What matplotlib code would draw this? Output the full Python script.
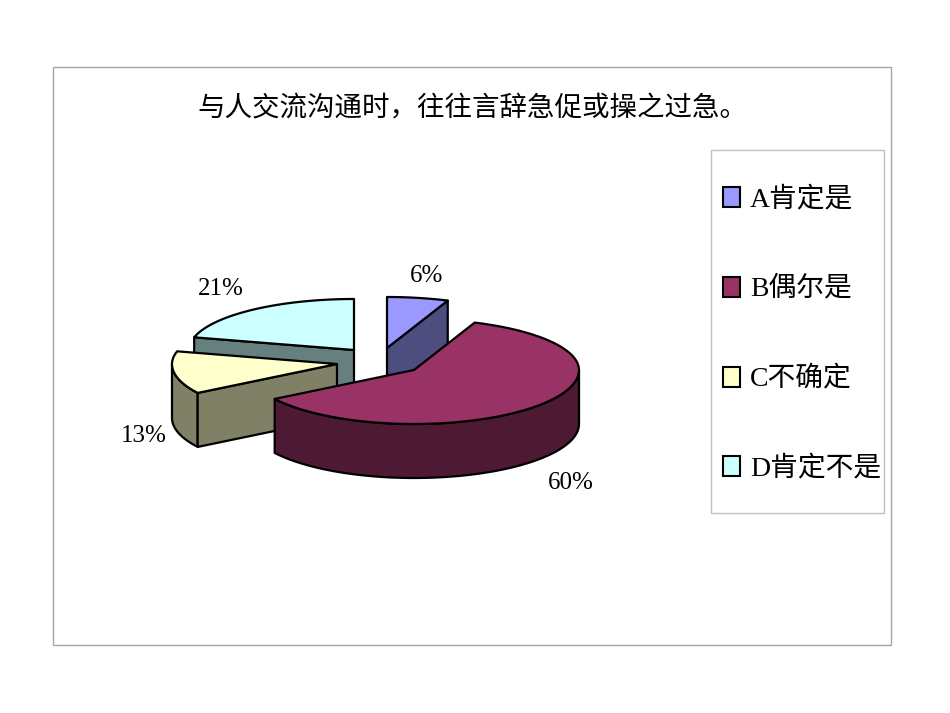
import numpy as np
import matplotlib
matplotlib.use('Agg')
import matplotlib.pyplot as plt
from matplotlib.patches import Polygon, Rectangle

plt.rcParams['font.family'] = ['Liberation Serif', 'Noto Sans CJK SC', 'DejaVu Sans']

title = '与人交流沟通时，往往言辞急促或操之过急。'
labels = ['A肯定是', 'B偶尔是', 'C不确定', 'D肯定不是']
values = [6, 60, 13, 21]
top_colors = ['#9999FF', '#993366', '#FFFFCC', '#CCFFFF']
side_colors = ['#4D4D80', '#4D1933', '#808066', '#668080']

# layout, in image pixels
centers = [(387, 348), (414, 370), (337, 364), (354, 350)]
label_pos = [(427, 276), (571, 483), (144, 436), (221, 289)]
legend_y = [197, 287, 377, 466]
rx, ry_back, ry_front, depth = 165, 51, 54, 54
lw = 1.6


def point(c, deg):
    a = np.radians(deg)
    # the near half of the pie looks a bit deeper than the far half
    ry = ry_back if np.cos(a) > 0 else ry_front
    return np.array([c[0] + rx * np.sin(a), c[1] - ry * np.cos(a)])


def arc(c, a, b):
    return [point(c, d) for d in np.linspace(a, b, 80)]


def shift(pts):
    return [(p[0], p[1] + depth) for p in pts]


def poly(ax, pts, color, z):
    ax.add_patch(Polygon(pts, closed=True, facecolor=color, edgecolor='black',
                         linewidth=lw, joinstyle='round', zorder=z))


fig = plt.figure(figsize=(9.5, 7.13), dpi=100)
ax = fig.add_axes([0, 0, 1, 1])
ax.set_xlim(0, 950)
ax.set_ylim(713, 0)
ax.axis('off')

ax.add_patch(Rectangle((53, 67), 838, 578, fill=False, edgecolor='#A6A6A6', linewidth=1))
ax.add_patch(Rectangle((710.5, 150), 173, 363, fill=False, edgecolor='#C0C0C0', linewidth=1))
ax.text(472, 109, title, ha='center', va='center', fontsize=19.8)

# start and end angle of each slice, clockwise from the top
ends = np.cumsum(values) / sum(values) * 360
starts = np.concatenate([[0], ends[:-1]])

# back to front: D, A, C, B
z = 2
for i in [3, 0, 2, 1]:
    c = centers[i]
    a, b = starts[i], ends[i]
    # outer wall, only the part facing the viewer
    w0, w1 = max(a, 90), min(b, 270)
    if w0 < w1:
        pts = arc(c, w0, w1)
        poly(ax, pts + shift(pts)[::-1], side_colors[i], z)
        z += 1
    # cut face that can be seen
    if b <= 90:
        cut = [c, point(c, b)]
    elif 180 < a < 360:
        cut = [c, point(c, a)]
    else:
        cut = None
    if cut is not None:
        poly(ax, cut + shift(cut)[::-1], side_colors[i], z)
        z += 1
    # top face
    poly(ax, [c] + arc(c, a, b), top_colors[i], z)
    z += 1

for v, p in zip(values, label_pos):
    ax.text(p[0], p[1], f'{v}%', ha='center', va='center', fontsize=18, zorder=20)

for lab, col, y in zip(labels, top_colors, legend_y):
    ax.add_patch(Rectangle((723, y - 10), 17, 20, facecolor=col, edgecolor='black', linewidth=1.5))
    ax.text(750, y + 2, lab, ha='left', va='center', fontsize=20)

fig.savefig('out.png', dpi=100)
